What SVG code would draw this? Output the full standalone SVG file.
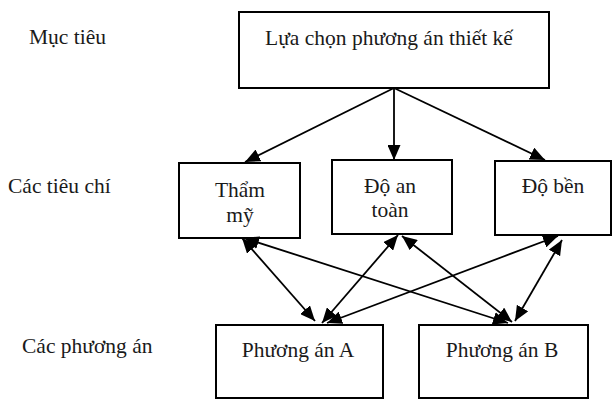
<svg xmlns="http://www.w3.org/2000/svg" width="612" height="401" viewBox="0 0 612 401">
<defs>
<marker id="ah" markerWidth="15" markerHeight="13" refX="15" refY="6.5" orient="auto-start-reverse" markerUnits="userSpaceOnUse">
<path d="M0,0 L15,6.5 L0,13 z" fill="#000"/>
</marker>
<style>
.box{fill:#fff;stroke:#000;stroke-width:2}
.t{font-family:"Liberation Serif","Times New Roman",serif;font-size:21.5px;fill:#1a1a1a}
.c{text-anchor:middle}
.ln{stroke:#000;stroke-width:1.8;fill:none}
</style>
</defs>
<rect width="612" height="401" fill="#fff"/>
<g id="labels">
<text class="t" x="29" y="44">Mục tiêu</text>
<text class="t" x="8" y="193">Các tiêu chí</text>
<text class="t" x="22" y="353">Các phương án</text>
</g>
<g id="goal">
<rect class="box" x="239" y="12" width="310" height="76"/>
<text class="t c" x="389" y="45">Lựa chọn phương án thiết kế</text>
</g>
<g id="tham-my">
<rect class="box" x="179" y="163" width="121" height="75"/>
<text class="t c" x="240" y="197">Thẩm</text>
<text class="t c" x="240" y="222">mỹ</text>
</g>
<g id="do-an-toan">
<rect class="box" x="332" y="160" width="120" height="74"/>
<text class="t c" x="390" y="193">Độ an</text>
<text class="t c" x="390" y="217">toàn</text>
</g>
<g id="do-ben">
<rect class="box" x="495" y="161" width="116" height="74"/>
<text class="t c" x="553" y="193">Độ bền</text>
</g>
<g id="phuong-an-a">
<rect class="box" x="216" y="325" width="167" height="73"/>
<text class="t c" x="298" y="357">Phương án A</text>
</g>
<g id="phuong-an-b">
<rect class="box" x="419" y="325" width="169" height="73"/>
<text class="t c" x="502" y="357">Phương án B</text>
</g>
<g id="connectors">
<line class="ln" x1="394" y1="88" x2="245" y2="162" marker-end="url(#ah)"/>
<line class="ln" x1="394" y1="88" x2="394" y2="160" marker-end="url(#ah)"/>
<line class="ln" x1="394" y1="88" x2="545" y2="160" marker-end="url(#ah)"/>
<line class="ln" x1="242" y1="238" x2="315" y2="321" marker-start="url(#ah)" marker-end="url(#ah)"/>
<line class="ln" x1="244" y1="238" x2="508" y2="323" marker-start="url(#ah)" marker-end="url(#ah)"/>
<line class="ln" x1="398" y1="235" x2="322" y2="323" marker-start="url(#ah)" marker-end="url(#ah)"/>
<line class="ln" x1="402" y1="236" x2="512" y2="322" marker-start="url(#ah)" marker-end="url(#ah)"/>
<line class="ln" x1="558" y1="236" x2="327" y2="323" marker-start="url(#ah)" marker-end="url(#ah)"/>
<line class="ln" x1="562" y1="240" x2="515" y2="321" marker-start="url(#ah)" marker-end="url(#ah)"/>
</g>
</svg>
